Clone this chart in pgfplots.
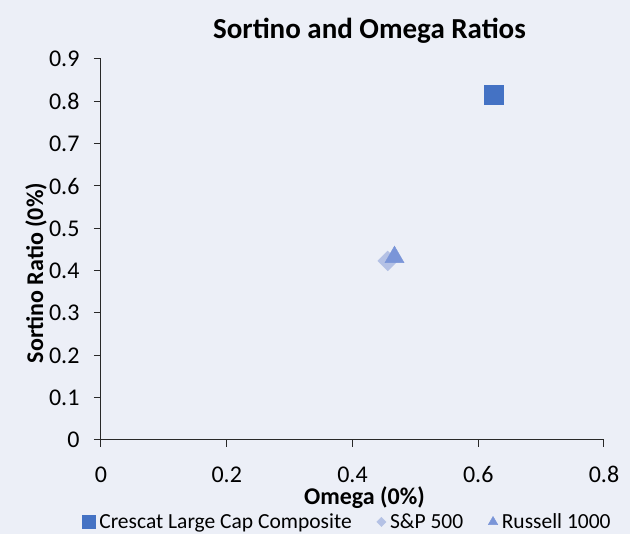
\documentclass[border=0pt]{standalone}
\usepackage{fontspec}
\setmainfont{Carlito}
\usepackage{pgfplots}
\pgfplotsset{compat=1.18}
\definecolor{bg}{RGB}{236,239,247}
\definecolor{sqc}{HTML}{4472C4}
\definecolor{dic}{HTML}{B4C1E5}
\definecolor{trc}{HTML}{7A95D8}
\definecolor{axc}{RGB}{40,40,40}
\begin{document}
\begin{tikzpicture}[x=1pt,y=1pt]
\useasboundingbox (0,0) rectangle (630,534);
\fill[bg] (0,0) rectangle (630,534);
\begin{axis}[
  at={(101pt,94pt)}, anchor=south west,
  scale only axis, width=503pt, height=381pt,
  xmin=0, xmax=0.8, ymin=0, ymax=0.9,
  xtick={0,0.2,0.4,0.6,0.8},
  ytick={0,0.1,0.2,0.3,0.4,0.5,0.6,0.7,0.8,0.9},
  axis lines=left, axis line style={-, axc, line width=1pt},
  tick align=outside, major tick length=7pt,
  tick style={axc, line width=1pt},
  /pgf/number format/assume math mode=true,
  ticklabel style={font=\fontsize{24}{28}\selectfont, text=black},
  xticklabel style={yshift=-16pt},
  yticklabel style={xshift=-11pt},
  clip=false,
  legend columns=3,
  legend style={at={(axis description cs:0.49,-0.215)}, anchor=center,
    draw=none, fill=none, font=\fontsize{21.5}{25}\selectfont,
    nodes={inner sep=2pt},
    /tikz/every odd column/.append style={column sep=2pt},
    /tikz/every even column/.append style={column sep=23pt}},
  legend image code/.code={\draw[#1] plot coordinates {(0pt,0pt)};},
]
\addplot[only marks, mark=square*, mark size=9.5pt, color=sqc,
  legend image post style={mark size=6.5pt}]
  coordinates {(0.6243,0.816)};
\addlegendentry{Crescat Large Cap Composite}
\addplot[only marks, mark=square*, mark size=7pt, mark options={rotate=45}, color=dic,
  legend image post style={mark size=3.3pt}]
  coordinates {(0.456,0.423)};
\addlegendentry{S\&P 500}
\addplot[only marks, mark=triangle*, mark size=11pt, color=trc,
  legend image post style={mark size=5.5pt}]
  coordinates {(0.4668,0.432)};
\addlegendentry{Russell 1000}
\end{axis}
\node[anchor=base, font=\fontsize{29}{33}\selectfont\bfseries] at (369.5,495) {Sortino and Omega Ratios};
\node[anchor=base, font=\fontsize{24}{28}\selectfont\bfseries] at (364.5,29) {Omega (0\%)};
\node[anchor=base, rotate=90, font=\fontsize{24}{28}\selectfont\bfseries] at (43,261) {Sortino Ratio (0\%)};
\end{tikzpicture}
\end{document}
